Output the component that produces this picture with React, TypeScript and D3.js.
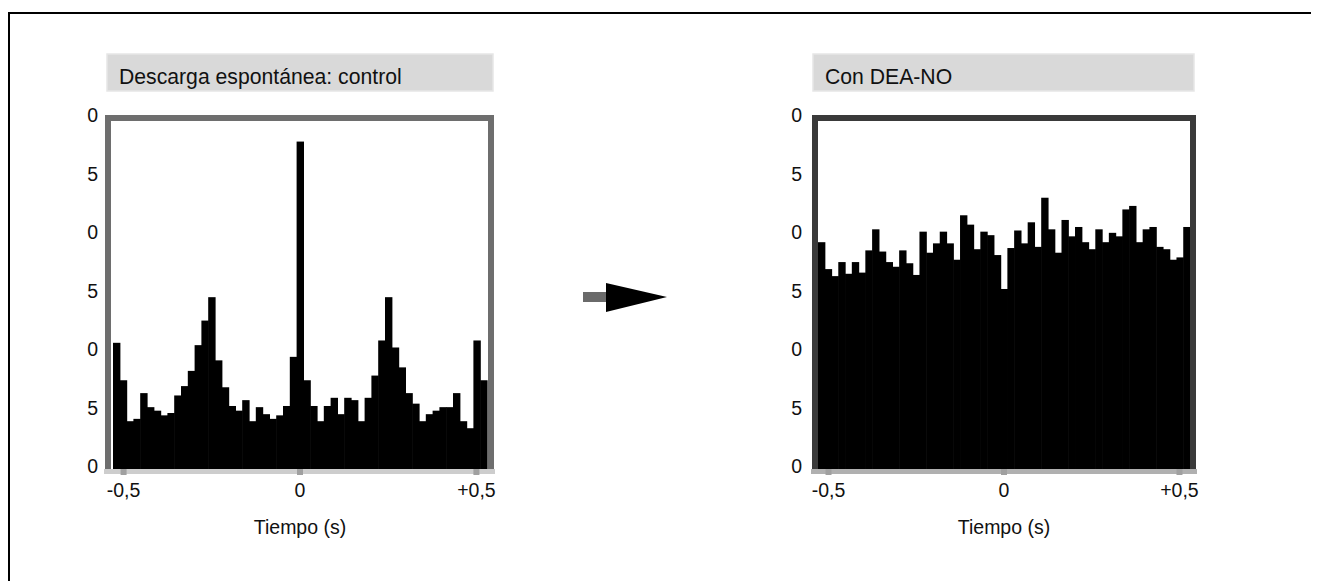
import React from 'react';
import * as d3 from 'd3';

// ---- data ----
const yTickValues = [0, 5, 10, 15, 20, 25, 30];
const yTickLabels = ['0', '5', '0', '5', '0', '5', '0'];
const xTickValues = [-0.5, 0, 0.5];
const xTickLabels = ['-0,5', '0', '+0,5'];
const xAxisTitle = 'Tiempo (s)';
const controlTitle = 'Descarga espontánea: control';
const deaNoTitle = 'Con DEA-NO';

// spike counts per bin (55 bins from -0.53 s to +0.53 s)
const controlCounts = [
  10.7, 7.5, 4.0, 4.2, 6.4, 5.2, 4.9, 4.5, 4.7, 6.2,
  7.0, 8.3, 10.5, 12.6, 14.6, 9.2, 6.9, 5.3, 4.9, 5.8,
  4.0, 5.2, 4.6, 4.2, 4.5, 5.3, 9.5, 27.9, 7.5, 5.3,
  4.0, 5.3, 6.0, 4.6, 6.0, 5.8, 4.0, 6.0, 7.9, 10.9,
  14.6, 10.3, 8.6, 6.4, 5.5, 4.0, 4.6, 4.9, 5.2, 5.2,
  6.4, 4.0, 3.4, 10.9, 7.5,
];
const deaNoCounts = [
  19.3, 17.0, 16.4, 17.6, 16.6, 17.6, 16.7, 18.6, 20.4, 18.5,
  17.6, 17.2, 18.6, 17.5, 16.5, 20.2, 18.4, 19.2, 20.2, 19.2,
  17.8, 21.6, 20.8, 18.7, 20.2, 19.9, 18.2, 15.3, 18.8, 20.3,
  19.2, 21.0, 18.9, 23.1, 20.4, 18.4, 21.2, 19.8, 20.6, 19.3,
  18.7, 20.4, 19.3, 20.1, 19.8, 22.1, 22.4, 19.3, 20.4, 20.6,
  18.9, 18.7, 17.8, 18.0, 20.6,
];

const FONT = '"Liberation Sans", Arial, sans-serif';

type PanelProps = {
  plotL: number;
  plotR: number;
  frameL: number;
  frameR: number;
  boxL: number;
  boxR: number;
  labelX: number;
  counts: number[];
  title: string;
  frameColor: string;
  axisColor: string;
};

function Panel(p: PanelProps) {
  const x = d3.scaleLinear().domain([-0.53, 0.53]).range([p.plotL, p.plotR]);
  const band = d3
    .scaleBand<number>()
    .domain(d3.range(p.counts.length))
    .range([p.plotL, p.plotR])
    .padding(0);
  const y = d3.scaleLinear().domain([0, 30]).range([468, 117]);
  const top = y(30) + 1;
  const bottom = y(0);

  return (
    <g>
      {/* title box */}
      <rect x={p.boxL} y={54} width={p.boxR - p.boxL} height={37} fill="#d9d9d9" stroke="#e6e6e6" strokeWidth={1.5} />
      <text x={p.boxL + 12} y={84} fontFamily={FONT} fontSize={21.2} fill="#111">
        {p.title}
      </text>

      {/* histogram bars */}
      {p.counts.map((c, i) => (
        <rect
          key={i}
          x={band(i)!}
          y={y(c)}
          width={band.bandwidth() + 0.6}
          height={bottom - y(c) + 1}
          fill="#000"
        />
      ))}

      {/* bottom axis band */}
      <rect x={p.frameL - 4} y={bottom + 1} width={p.frameR - p.frameL + 8} height={5} fill={p.axisColor} />
      {xTickValues.map((v, i) => (
        <rect key={'xt' + i} x={x(v) - 3} y={bottom + 1} width={6} height={6} fill="#a0a0a0" />
      ))}

      {/* frame */}
      <path
        d={`M${p.frameL},${bottom + 1}V${top}H${p.frameR}V${bottom + 1}`}
        fill="none"
        stroke={p.frameColor}
        strokeWidth={6}
      />

      {/* y tick labels */}
      {yTickValues.map((v, i) => (
        <text
          key={'yl' + i}
          x={p.labelX}
          y={y(v) - 2}
          textAnchor="end"
          dominantBaseline="central"
          fontFamily={FONT}
          fontSize={19.5}
          fill="#111"
        >
          {yTickLabels[i]}
        </text>
      ))}

      {/* x tick labels */}
      {xTickValues.map((v, i) => (
        <text
          key={'xl' + i}
          x={x(v)}
          y={497}
          textAnchor="middle"
          fontFamily={FONT}
          fontSize={19.5}
          fill="#111"
        >
          {xTickLabels[i]}
        </text>
      ))}

      <text
        x={x(0)}
        y={534}
        textAnchor="middle"
        fontFamily={FONT}
        fontSize={19.5}
        fill="#111"
      >
        {xAxisTitle}
      </text>
    </g>
  );
}

export default function App() {
  return (
    <svg
      width={1319}
      height={581}
      viewBox="0 0 1319 581"
      style={{ position: 'absolute', left: 0, top: 0, background: '#fff' }}
    >
      <rect x={0} y={0} width={1319} height={581} fill="#fff" />
      {/* outer frame */}
      <path d="M9,581V13H1311" fill="none" stroke="#000" strokeWidth={2} />

      <Panel
        plotL={113}
        plotR={487}
        frameL={108}
        frameR={491}
        boxL={107}
        boxR={493}
        labelX={98}
        counts={controlCounts}
        title={controlTitle}
        frameColor="#6e6e6e"
        axisColor="#cdcdcd"
      />
      <Panel
        plotL={818}
        plotR={1190}
        frameL={815}
        frameR={1193}
        boxL={813}
        boxR={1194}
        labelX={802}
        counts={deaNoCounts}
        title={deaNoTitle}
        frameColor="#3a3a3a"
        axisColor="#b0b0b0"
      />

      {/* arrow between panels */}
      <rect x={583} y={292} width={28} height={10} fill="#6a6a6a" />
      <path d="M606,283L667,297L606,312Z" fill="#000" />
    </svg>
  );
}
